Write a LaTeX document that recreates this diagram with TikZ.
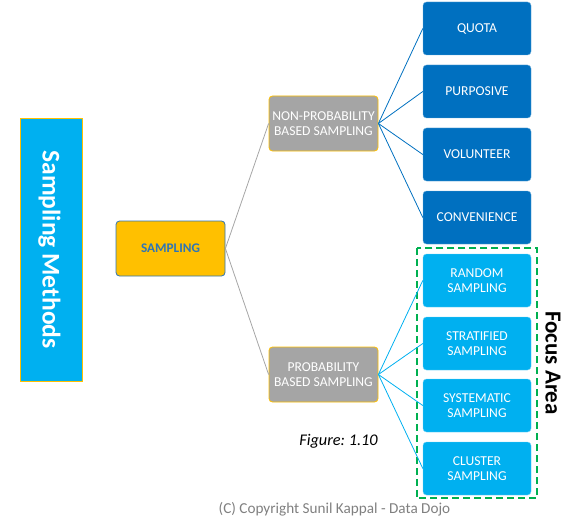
\documentclass[tikz,border=0pt]{standalone}
\usepackage{fontspec}
\setmainfont{Carlito}
\usepackage{tikz}
\usetikzlibrary{calc}
\usetikzlibrary{positioning,shapes}
\definecolor{darkblue}{HTML}{0070C0}
\definecolor{skyblue}{HTML}{00B0F0}
\definecolor{boxgray}{HTML}{A5A5A5}
\definecolor{gold}{HTML}{FFC000}
\definecolor{linegray}{HTML}{A6A6A6}
\definecolor{focusgreen}{HTML}{00B050}
\definecolor{textblue}{HTML}{2E75B6}
\frenchspacing

\begin{document}
\begin{tikzpicture}[x=1pt,y=-1pt,
        box/.style={rectangle,rounded corners=3.5pt,minimum width=108pt,minimum height=53pt,
          align=center,text=white,font=\fontsize{13.6}{14.6}\selectfont,inner sep=1pt},
        nonprob/.style={box,fill=darkblue,draw=darkblue!60!white,line width=.4pt},
        prob/.style={box,fill=skyblue,draw=skyblue!60!white,line width=.4pt},
        midbox/.style={box,minimum width=109pt,minimum height=55pt,fill=boxgray,draw=gold,line width=.8pt}]
        \useasboundingbox (0,0) rectangle (586,524);
        \node[rectangle,minimum width=62pt,minimum height=263pt,fill=skyblue,draw=gold,line width=.6pt] (M) at (51,249.5) {};
        \node[rotate=-90,text=white,font=\fontsize{25.5}{28}\selectfont\bfseries] (Mt) at ($(M.center)+(-1.5,0)$) {Sampling Methods};
        \node[box,minimum width=109pt,minimum height=55pt,fill=gold,draw=textblue,line width=.8pt,
          text=textblue,font=\fontsize{13.2}{14.6}\selectfont\bfseries] (S) at (170.5,248.5) {SAMPLING};
        \node[midbox] (NP) at (323.5,123.5) {NON-PROBABILITY\\BASED SAMPLING};
        \node[midbox] (P) at (323.5,374.5) {PROBABILITY\\BASED SAMPLING};
        \node[nonprob] (Q) at (477,28.5) {QUOTA};
        \node[nonprob] (Pu) at (477,91.5) {PURPOSIVE};
        \node[nonprob] (V) at (477,154.5) {VOLUNTEER};
        \node[nonprob] (C) at (477,217.5) {CONVENIENCE};
        \node[prob] (R) at (477,280.5) {RANDOM\\SAMPLING};
        \node[prob] (St) at (477,343.5) {STRATIFIED\\SAMPLING};
        \node[prob] (Sy) at (477,405.5) {SYSTEMATIC\\SAMPLING};
        \node[prob] (Cl) at (477,468.5) {CLUSTER\\SAMPLING};
        \draw[focusgreen,line width=1.6pt,dash pattern=on 7pt off 4pt]
        ($(R.north west)+(-6,-6)$) rectangle ($(Cl.south east)+(6,3)$);
        \node[rotate=-90,font=\fontsize{23}{26}\selectfont\bfseries] (F) at (553,363) {Focus Area};
        \node[font=\fontsize{16.3}{19}\selectfont\itshape] (Fig) at (338.5,441) {Figure: 1.10};
        \node[text=black!50,font=\fontsize{15.2}{18}\selectfont] (Copy) at (334.5,509) {(C) Copyright Sunil Kappal - Data Dojo};
        \draw[linegray,line width=.8pt]
        (S.east) -- (NP.west)
        (S.east) -- (P.west);
        \foreach \n in {Q,Pu,V,C} \draw[darkblue,line width=.8pt] (NP.east) -- (\n.west);
        \foreach \n in {R,St,Sy,Cl} \draw[skyblue,line width=.8pt] (P.east) -- (\n.west);
      \end{tikzpicture}
\end{document}
